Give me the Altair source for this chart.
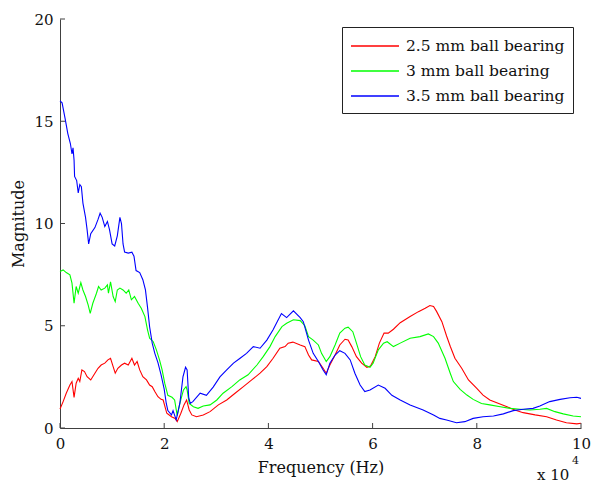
import altair as alt
import pandas as pd

# ---------------- data (x in units of 10^4 Hz) ----------------
SERIES = ["2.5 mm ball bearing", "3 mm ball bearing", "3.5 mm ball bearing"]
COLORS = ["#ff0000", "#00ff00", "#0000ff"]

red_x = [0.00, 0.06, 0.12, 0.19, 0.23, 0.27, 0.31, 0.35, 0.38, 0.42, 0.47, 0.52, 0.59, 0.67, 0.73,
         0.79, 0.86, 0.92, 0.97, 1.02, 1.06, 1.11, 1.18, 1.24, 1.31, 1.38, 1.43, 1.48, 1.53, 1.59,
         1.66, 1.72, 1.77, 1.82, 1.88, 1.94, 1.98, 2.05, 2.14, 2.21, 2.25, 2.32, 2.38, 2.43, 2.48,
         2.53, 2.62, 2.75, 2.88, 3.04, 3.20, 3.36, 3.52, 3.68, 3.84, 3.97, 4.09, 4.22, 4.32, 4.38,
         4.47, 4.61, 4.70, 4.77, 4.83, 4.96, 5.05, 5.11, 5.18, 5.28, 5.37, 5.47, 5.53, 5.60, 5.69,
         5.79, 5.89, 5.96, 6.05, 6.13, 6.22, 6.30, 6.40, 6.53, 6.72, 6.88, 7.01, 7.10, 7.17, 7.23,
         7.33, 7.42, 7.49, 7.58, 7.71, 7.84, 8.00, 8.12, 8.25, 8.42, 8.58, 8.73, 8.89, 9.12, 9.34,
         9.53, 9.72, 9.92, 10.0]
red_y = [0.93, 1.29, 1.70, 2.10, 2.27, 1.50, 2.19, 2.43, 2.27, 2.84, 2.76, 2.51, 2.35, 2.68, 2.92,
         3.08, 3.17, 3.33, 3.41, 3.00, 2.68, 2.92, 3.08, 3.17, 3.08, 3.41, 3.08, 3.25, 2.84, 2.51,
         2.35, 2.10, 2.02, 1.78, 1.53, 1.40, 1.37, 0.72, 0.55, 0.47, 0.31, 0.72, 1.13, 1.37, 0.88,
         0.64, 0.55, 0.64, 0.80, 1.13, 1.37, 1.70, 2.02, 2.35, 2.68, 3.00, 3.41, 3.90, 3.98, 4.15,
         4.20, 4.06, 3.98, 3.57, 3.33, 3.25, 2.92, 2.68, 3.08, 3.57, 4.06, 4.34, 4.30, 3.98, 3.49,
         3.17, 2.97, 3.03, 3.49, 4.15, 4.64, 4.64, 4.83, 5.15, 5.45, 5.69, 5.86, 5.99, 5.94, 5.69,
         5.20, 4.50, 4.00, 3.41, 2.92, 2.35, 1.94, 1.61, 1.37, 1.20, 1.04, 0.88, 0.75, 0.64, 0.55,
         0.39, 0.26, 0.20, 0.23]

green_x = [0.00, 0.06, 0.12, 0.19, 0.23, 0.27, 0.31, 0.35, 0.40, 0.44, 0.49, 0.54, 0.58, 0.63, 0.70,
           0.74, 0.79, 0.86, 0.91, 0.93, 0.97, 1.02, 1.06, 1.10, 1.15, 1.21, 1.27, 1.32, 1.37, 1.43,
           1.50, 1.56, 1.63, 1.68, 1.72, 1.79, 1.85, 1.91, 1.96, 2.01, 2.07, 2.15, 2.20, 2.25, 2.30,
           2.37, 2.42, 2.44, 2.48, 2.56, 2.65, 2.75, 2.88, 3.01, 3.13, 3.30, 3.45, 3.61, 3.78, 3.90,
           4.03, 4.13, 4.26, 4.35, 4.48, 4.61, 4.70, 4.77, 4.86, 4.96, 5.02, 5.11, 5.18, 5.28, 5.37,
           5.47, 5.53, 5.62, 5.69, 5.77, 5.85, 5.95, 6.01, 6.11, 6.21, 6.28, 6.40, 6.53, 6.72, 6.91,
           7.07, 7.17, 7.26, 7.39, 7.49, 7.55, 7.68, 7.81, 7.93, 8.09, 8.25, 8.45, 8.64, 8.83, 9.02,
           9.21, 9.34, 9.50, 9.66, 9.85, 10.0]
green_y = [7.65, 7.73, 7.60, 7.49, 7.08, 6.10, 6.92, 6.59, 7.11, 6.75, 6.43, 6.02, 5.61, 6.10, 6.59,
           6.92, 6.75, 6.84, 7.00, 6.59, 7.15, 6.43, 6.18, 6.75, 6.84, 6.75, 6.59, 6.75, 6.27, 6.43,
           6.10, 5.86, 5.45, 4.80, 4.39, 4.22, 3.82, 3.33, 2.84, 2.19, 1.60, 1.50, 1.37, 0.60, 1.20,
           1.86, 2.02, 1.86, 1.20, 1.04, 0.96, 1.08, 1.13, 1.37, 1.70, 2.02, 2.35, 2.60, 3.08, 3.49,
           3.98, 4.47, 4.96, 5.12, 5.29, 5.25, 5.00, 4.47, 4.30, 4.06, 3.65, 3.25, 3.49, 4.06, 4.64,
           4.88, 4.93, 4.71, 4.15, 3.49, 3.08, 2.97, 3.17, 3.82, 4.15, 4.22, 3.98, 4.15, 4.39, 4.47,
           4.60, 4.47, 4.15, 3.41, 2.68, 2.27, 1.89, 1.61, 1.40, 1.20, 1.13, 1.04, 0.96, 0.92, 0.88,
           0.92, 0.96, 0.80, 0.69, 0.59, 0.55]

blue_x = [0.00, 0.04, 0.10, 0.15, 0.20, 0.23, 0.25, 0.27, 0.28, 0.32, 0.35, 0.38, 0.41, 0.44, 0.49,
          0.52, 0.55, 0.59, 0.67, 0.73, 0.77, 0.81, 0.86, 0.91, 0.95, 1.00, 1.05, 1.10, 1.15, 1.18,
          1.21, 1.24, 1.31, 1.38, 1.42, 1.46, 1.53, 1.59, 1.64, 1.68, 1.72, 1.77, 1.82, 1.88, 1.94,
          2.00, 2.04, 2.07, 2.14, 2.17, 2.23, 2.30, 2.36, 2.41, 2.44, 2.47, 2.50, 2.55, 2.69, 2.81,
          2.94, 3.07, 3.20, 3.33, 3.45, 3.58, 3.71, 3.84, 3.97, 4.09, 4.25, 4.35, 4.48, 4.61, 4.67,
          4.77, 4.86, 4.96, 5.05, 5.11, 5.18, 5.28, 5.37, 5.47, 5.57, 5.66, 5.76, 5.85, 5.95, 6.11,
          6.24, 6.37, 6.53, 6.72, 6.97, 7.17, 7.29, 7.42, 7.61, 7.77, 7.93, 8.12, 8.32, 8.51, 8.70,
          8.89, 9.08, 9.21, 9.40, 9.60, 9.79, 9.92, 10.0]
blue_y = [16.0, 15.9, 15.1, 14.4, 13.9, 13.4, 13.7, 13.1, 12.3, 12.1, 11.5, 11.9, 11.8, 11.0, 10.3,
          9.70, 9.00, 9.50, 9.80, 10.2, 10.5, 10.3, 9.85, 10.1, 9.70, 9.00, 8.90, 9.40, 10.3, 10.0,
          9.00, 8.60, 8.55, 8.60, 8.40, 7.70, 7.60, 7.25, 6.75, 5.90, 4.95, 4.15, 3.65, 3.20, 2.60,
          1.90, 1.20, 0.85, 0.64, 0.85, 0.40, 1.20, 2.50, 2.97, 2.84, 1.50, 1.20, 1.29, 1.70, 1.60,
          2.00, 2.50, 2.84, 3.17, 3.40, 3.65, 3.98, 3.90, 4.30, 4.80, 5.60, 5.40, 5.73, 5.40, 5.20,
          4.30, 3.65, 3.25, 2.84, 2.60, 3.17, 3.57, 3.78, 3.65, 3.33, 2.68, 2.10, 1.78, 1.86, 2.10,
          1.94, 1.60, 1.37, 1.13, 0.88, 0.64, 0.47, 0.39, 0.26, 0.31, 0.47, 0.55, 0.59, 0.69, 0.85,
          0.92, 0.96, 1.08, 1.29, 1.40, 1.48, 1.50, 1.45]

X_TICKS = [0, 2, 4, 6, 8, 10]
Y_TICKS = [0, 5, 10, 15, 20]
EXP_TEXT = ["x 10"]
EXP_SUP = ["4"]

# ---------------- table ----------------
rows = []
for name, xs, ys in zip(SERIES, [red_x, green_x, blue_x], [red_y, green_y, blue_y]):
    for xv, yv in zip(xs, ys):
        rows.append({"series": name, "freq": xv, "mag": yv})
df = pd.DataFrame(rows)
xt = pd.DataFrame({"freq": X_TICKS})
yt = pd.DataFrame({"mag": Y_TICKS})
ex = pd.DataFrame({"base": EXP_TEXT, "sup": EXP_SUP})

W, H = 521, 409
FONT = "DejaVu Serif"
AXC = "#404040"
TXT = "#111111"

xscale = alt.Scale(domain=[0, 10], nice=False, zero=False)
yscale = alt.Scale(domain=[0, 20], nice=False, zero=False)

xaxis = alt.Axis(values=X_TICKS, tickSize=0, labelPadding=8, title="Frequency (Hz)",
                 titlePadding=8, grid=False, labelFlush=False,
                 domainColor=AXC, domainWidth=1,
                 labelFont=FONT, labelFontSize=15, labelColor=TXT,
                 titleFont=FONT, titleFontSize=16, titleFontWeight="normal", titleColor=TXT)
yaxis = alt.Axis(values=Y_TICKS, tickSize=0, labelPadding=7, title="Magnitude",
                 titlePadding=7, grid=False, labelFlush=False,
                 domainColor=AXC, domainWidth=1,
                 labelFont=FONT, labelFontSize=15, labelColor=TXT,
                 titleFont=FONT, titleFontSize=16, titleFontWeight="normal", titleColor=TXT)

lines = alt.Chart(df).mark_line(strokeWidth=1.1).encode(
    x=alt.X("freq:Q", scale=xscale, axis=xaxis),
    y=alt.Y("mag:Q", scale=yscale, axis=yaxis),
    color=alt.Color(
        "series:N",
        scale=alt.Scale(domain=SERIES, range=COLORS),
        title=None,
        legend=alt.Legend(
            orient="none", legendX=282, legendY=8,
            symbolType="M-2.4,0H2.4", symbolSize=400, symbolStrokeWidth=1.3,
            symbolOffset=14, labelOffset=20,
            labelFont=FONT, labelFontSize=15.5, labelColor=TXT,
            strokeColor="#222222", fillColor="white", padding=8, rowPadding=5,
            labelLimit=400,
        ),
    ),
)

xticks = alt.Chart(xt).mark_rule(color=AXC, strokeWidth=1).encode(
    x=alt.X("freq:Q", scale=xscale, axis=xaxis), y=alt.value(H), y2=alt.value(H - 5)
)
yticks = alt.Chart(yt).mark_rule(color=AXC, strokeWidth=1).encode(
    y=alt.Y("mag:Q", scale=yscale, axis=yaxis), x=alt.value(0), x2=alt.value(5)
)

exp_base = alt.Chart(ex).mark_text(font=FONT, fontSize=15, fontWeight="normal", align="left",
                                   baseline="alphabetic", color=TXT).encode(
    x=alt.value(477), y=alt.value(461), text="base:N"
)
exp_sup = alt.Chart(ex).mark_text(font=FONT, fontSize=11, fontWeight="normal", align="left",
                                  baseline="alphabetic", color=TXT).encode(
    x=alt.value(512), y=alt.value(445), text="sup:N"
)

chart = alt.layer(lines, xticks, yticks, exp_base, exp_sup).properties(
    width=W, height=H,
    autosize=alt.AutoSizeParams(type="none"),
    padding={"left": 60, "top": 19, "right": 10, "bottom": 57},
    background="white",
).configure_view(stroke=None)

chart.save("out.html", embed_options={"renderer": "svg", "actions": False})
